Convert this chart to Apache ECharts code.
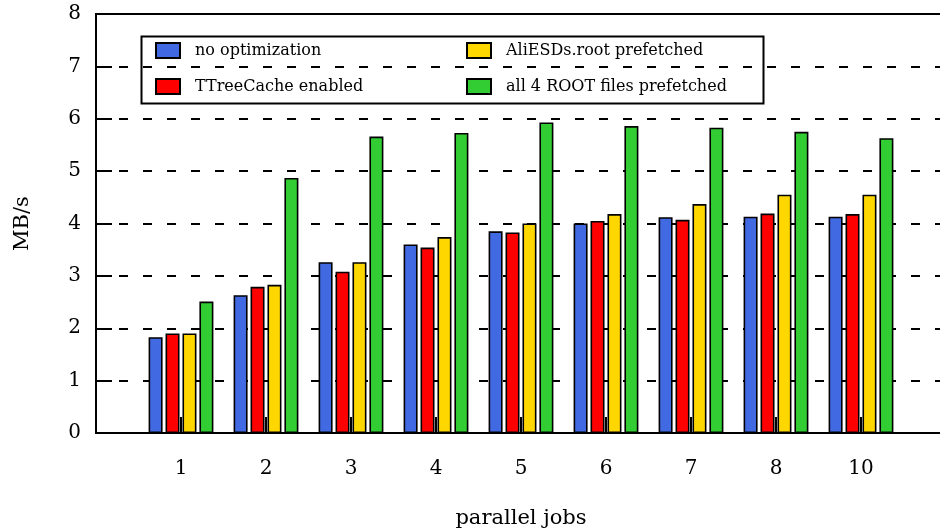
<!DOCTYPE html>
<html>
<head>
<meta charset="utf-8">
<script src="https://cdn.jsdelivr.net/npm/echarts@6/dist/echarts.min.js"></script>
<style>html,body{margin:0;padding:0;background:#fff}#c{width:940px;height:531px}</style>
</head>
<body>
<div id="c"></div>
<script>
const categories = ['1', '2', '3', '4', '5', '6', '7', '8', '10'];
const noOptimization = [1.83, 2.63, 3.26, 3.60, 3.85, 4.00, 4.12, 4.13, 4.13];
const treeCache = [1.90, 2.79, 3.08, 3.54, 3.83, 4.05, 4.07, 4.19, 4.18];
const aliPrefetched = [1.90, 2.83, 3.26, 3.74, 4.00, 4.18, 4.37, 4.55, 4.55];
const allPrefetched = [2.51, 4.87, 5.66, 5.73, 5.93, 5.86, 5.83, 5.75, 5.63];
const yTicks = [0, 1, 2, 3, 4, 5, 6, 7, 8];

const names = ['no optimization', 'TTreeCache enabled', 'AliESDs.root prefetched', 'all 4 ROOT files prefetched'];
const colors = ['#4169E1', '#FF0000', '#FFD700', '#32CD32'];
const values = [noOptimization, treeCache, aliPrefetched, allPrefetched];

const axisData = [''].concat(categories, ['']);
const FONT = 'DejaVu Serif';

const series = values.map((v, i) => ({
  name: names[i],
  type: 'bar',
  data: [null].concat(v, [null]),
  barWidth: 14,
  barGap: '21%',
  itemStyle: { color: colors[i], borderColor: '#000', borderWidth: 1.6 },
  emphasis: { disabled: true }
}));

const legendCommon = {
  orient: 'vertical',
  padding: 0,
  itemWidth: 24,
  itemHeight: 15,
  itemGap: 19,
  icon: 'rect',
  selectedMode: false,
  textStyle: { fontFamily: FONT, fontSize: 16, color: '#000', padding: [0, 0, 0, 10] }
};

const chart = echarts.init(document.getElementById('c'), null, { renderer: 'canvas' });
chart.setOption({
  animation: false,
  backgroundColor: '#fff',
  grid: { left: 96, top: 14, width: 850, height: 419, show: true, borderColor: '#000', borderWidth: 2, containLabel: false, outerBoundsMode: 'none' },
  legend: [
    Object.assign({ left: 155, top: 42, data: [names[0], names[1]] }, legendCommon),
    Object.assign({ left: 466, top: 42, data: [names[2], names[3]] }, legendCommon)
  ],
  graphic: [{
    type: 'rect', left: 139, top: 34, z: 100,
    shape: { width: 622, height: 67 },
    style: { fill: 'none', stroke: '#000', lineWidth: 2 }
  }],
  xAxis: {
    type: 'category',
    data: axisData,
    boundaryGap: false,
    name: 'parallel jobs',
    nameLocation: 'middle',
    nameGap: 75,
    nameTextStyle: { fontFamily: FONT, fontSize: 21, color: '#000' },
    axisLine: { lineStyle: { color: '#000', width: 2 } },
    axisTick: { inside: true, length: 16, lineStyle: { color: '#000', width: 2 } },
    axisLabel: { fontFamily: FONT, fontSize: 20, color: '#000', margin: 26, interval: 0 },
    splitLine: { show: false }
  },
  yAxis: {
    type: 'value',
    min: yTicks[0],
    max: yTicks[yTicks.length - 1],
    interval: 1,
    name: 'MB/s',
    nameLocation: 'middle',
    nameGap: 63,
    nameTextStyle: { fontFamily: FONT, fontSize: 21, color: '#000' },
    axisLine: { show: true, lineStyle: { color: '#000', width: 2 } },
    axisTick: { show: true, inside: true, length: 16, lineStyle: { color: '#000', width: 2 } },
    axisLabel: { fontFamily: FONT, fontSize: 20, color: '#000', margin: 15 },
    splitLine: { show: true, lineStyle: { color: '#000', width: 2, type: [9, 15], dashOffset: 1 } }
  },
  series: series
});
</script>
</body>
</html>
